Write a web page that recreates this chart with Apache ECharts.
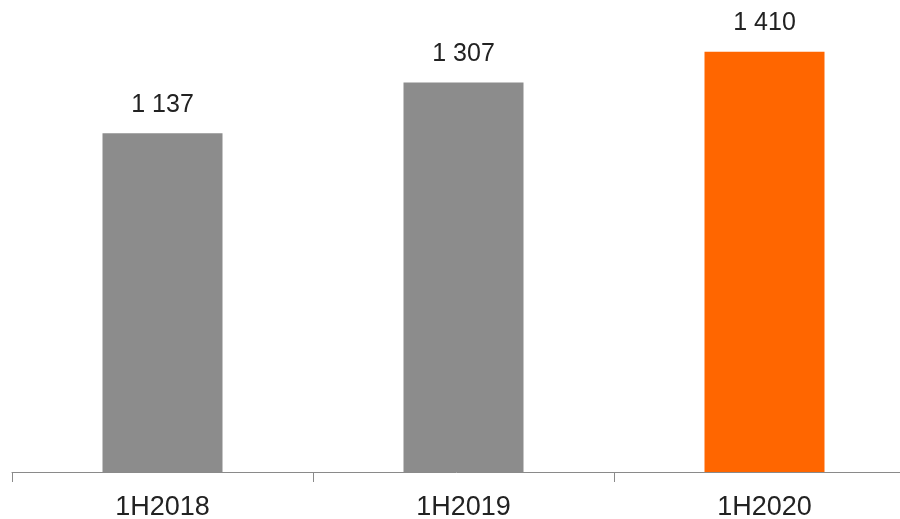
<!DOCTYPE html>
<html>
<head>
<meta charset="utf-8">
<script src="https://cdn.jsdelivr.net/npm/echarts@6/dist/echarts.min.js"></script>
<style>
  html, body { margin: 0; padding: 0; background: #fff; }
  #chart { width: 900px; height: 519px; }
</style>
</head>
<body>
<div id="chart"></div>
<script>
// Half-year figures
const categories = ['1H2018', '1H2019', '1H2020'];
const values = [1137, 1307, 1410];
const barColors = ['#8c8c8c', '#8c8c8c', '#ff6600'];

// Thousands separated by a space: 1137 -> "1 137"
function fmt(v) {
  return String(v).replace(/\B(?=(\d{3})+(?!\d))/g, ' ');
}

const chart = echarts.init(document.getElementById('chart'), null, { renderer: 'canvas' });
chart.setOption({
  animation: false,
  backgroundColor: '#ffffff',
  // plot area runs past the right edge, so the third slot is partly clipped
  grid: { left: 12, width: 903, top: 25, bottom: 47, containLabel: false, outerBoundsMode: 'none' },
  xAxis: {
    type: 'category',
    data: categories,
    axisLine: { show: true, lineStyle: { color: '#8a8a8a', width: 1 } },
    axisTick: { show: true, length: 10, lineStyle: { color: '#8a8a8a' } },
    axisLabel: {
      color: '#222',
      fontFamily: 'Liberation Sans, Arial, sans-serif',
      fontSize: 27,
      margin: 22
    }
  },
  yAxis: {
    type: 'value',
    min: 0,
    max: 1500,
    show: false,
    splitLine: { show: false }
  },
  series: [{
    type: 'bar',
    barWidth: 120,
    data: values.map((v, i) => ({ value: v, itemStyle: { color: barColors[i] } })),
    label: {
      show: true,
      position: 'top',
      distance: 16,
      color: '#222',
      fontFamily: 'Liberation Sans, Arial, sans-serif',
      fontSize: 25,
      formatter: p => fmt(p.value)
    }
  }]
});
</script>
</body>
</html>
